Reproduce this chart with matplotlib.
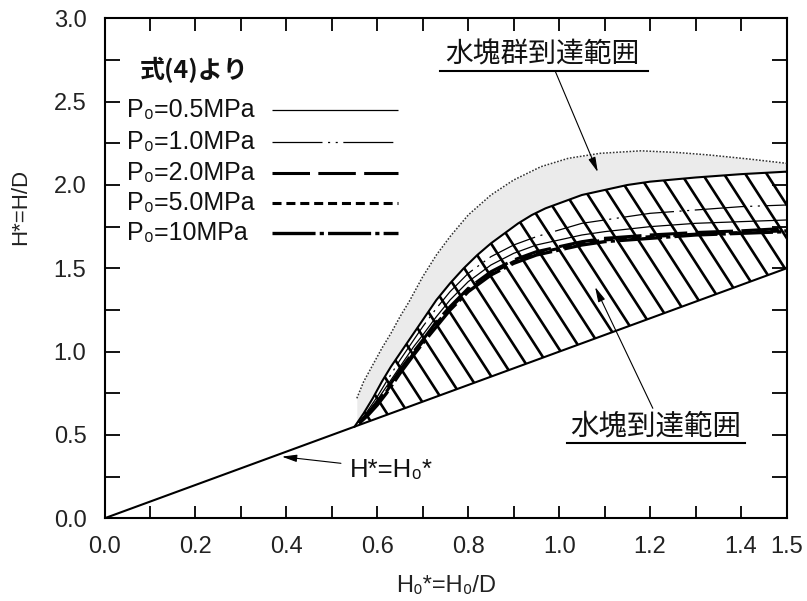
import numpy as np
import matplotlib
matplotlib.use('Agg')
import matplotlib.pyplot as plt
from matplotlib.patches import Polygon
from matplotlib.collections import LineCollection

plt.rcParams['font.family'] = ['Liberation Sans', 'DejaVu Sans']
plt.rcParams['lines.scale_dashes'] = False
JP = ['Noto Sans CJK JP', 'DejaVu Sans']

# ---------------- data ----------------
# H* = H0* line
line_x = [0.0, 1.5]
line_y = [0.0, 1.5]

# upper boundary of 水塊到達範囲 (hatched region)
ub_x = [0.55, 0.57, 0.59, 0.61, 0.63, 0.65, 0.67, 0.70, 0.73, 0.76, 0.79, 0.82, 0.85, 0.88,
        0.91, 0.94, 0.97, 1.0, 1.05, 1.1, 1.15, 1.2, 1.3, 1.4, 1.5]
ub_y = [0.55, 0.63, 0.72, 0.82, 0.91, 0.99, 1.07, 1.19, 1.31, 1.41, 1.50, 1.58, 1.65, 1.71,
        1.77, 1.82, 1.86, 1.89, 1.94, 1.97, 2.00, 2.02, 2.045, 2.065, 2.08]

# upper boundary of 水塊群到達範囲 (grey region, dotted)
grp_x = [0.555, 0.57, 0.59, 0.61, 0.63, 0.65, 0.67, 0.70, 0.73, 0.76, 0.80, 0.85, 0.90, 0.96,
         1.02, 1.09, 1.18, 1.26, 1.33, 1.42, 1.5]
grp_y = [0.72, 0.82, 0.92, 1.02, 1.11, 1.21, 1.30, 1.45, 1.58, 1.69, 1.82, 1.94, 2.03, 2.11,
         2.16, 2.19, 2.205, 2.195, 2.18, 2.155, 2.13]

# curves from eq.(4) for each P0
p0_x = [0.56, 0.58, 0.6, 0.62, 0.65, 0.68, 0.7, 0.73, 0.76, 0.8, 0.85, 0.9, 0.95, 1.0,
        1.05, 1.1, 1.2, 1.3, 1.4, 1.5]
p0_05 = [0.57, 0.64, 0.71, 0.79, 0.91, 1.03, 1.10, 1.21, 1.31, 1.42, 1.52, 1.59, 1.64, 1.67,
         1.70, 1.72, 1.75, 1.77, 1.78, 1.79]
p0_10 = [0.57, 0.65, 0.73, 0.82, 0.95, 1.07, 1.15, 1.26, 1.36, 1.47, 1.57, 1.64, 1.69, 1.73,
         1.77, 1.79, 1.83, 1.85, 1.87, 1.88]
p0_20 = [0.57, 0.63, 0.70, 0.77, 0.89, 1.00, 1.07, 1.18, 1.27, 1.38, 1.48, 1.55, 1.60, 1.63,
         1.66, 1.68, 1.70, 1.715, 1.725, 1.74]
p0_50 = [0.57, 0.63, 0.69, 0.76, 0.88, 0.99, 1.06, 1.17, 1.26, 1.37, 1.47, 1.54, 1.59, 1.62,
         1.65, 1.67, 1.69, 1.705, 1.715, 1.725]
p0_100 = [0.57, 0.62, 0.68, 0.75, 0.87, 0.98, 1.05, 1.15, 1.25, 1.36, 1.46, 1.53, 1.58, 1.61,
          1.64, 1.66, 1.68, 1.70, 1.71, 1.72]
p0_labels = ['P₀=0.5MPa', 'P₀=1.0MPa', 'P₀=2.0MPa', 'P₀=5.0MPa', 'P₀=10MPa']

x_ticks = [0.0, 0.1, 0.2, 0.3, 0.4, 0.5, 0.6, 0.7, 0.8, 0.9, 1.0, 1.1, 1.2, 1.3, 1.4, 1.5]
x_ticklabels = ['0.0', '', '0.2', '', '0.4', '', '0.6', '', '0.8', '', '1.0', '', '1.2', '', '1.4', '1.5']
y_ticks = [0.0, 0.25, 0.5, 0.75, 1.0, 1.25, 1.5, 1.75, 2.0, 2.25, 2.5, 2.75, 3.0]
y_ticklabels = ['0.0', '', '0.5', '', '1.0', '', '1.5', '', '2.0', '', '2.5', '', '3.0']

# ---------------- figure ----------------
fig = plt.figure(figsize=(8.07, 6.01), dpi=100)
ax = fig.add_axes([0.1295, 0.1376, 0.8451, 0.8319])
ax.set_xlim(0, 1.5)
ax.set_ylim(0, 3.0)

# grey region
xx = np.linspace(grp_x[0], grp_x[-1], 400)
lo = np.interp(xx, ub_x, ub_y)
hi = np.interp(xx, grp_x, grp_y)
ax.fill_between(xx, lo, hi, color='#ebebeb', lw=0, zorder=1)

# hatched region
verts = list(zip(ub_x, ub_y)) + [(line_x[1], line_y[1]), (ub_x[0], ub_y[0])]
poly = Polygon(verts, closed=True, facecolor='white', edgecolor='none', zorder=1.5)
ax.add_patch(poly)
k = 4.23
step = 0.047
segs = [[(b, 0.0), (b - 3.2 / k, 3.2)] for b in np.arange(0.30, 2.4, step)]
lc = LineCollection(segs, colors='k', linewidths=1.9, zorder=2)
lc.set_clip_path(poly)
ax.add_collection(lc)

styles = [
    dict(lw=0.9, ls='-'),
    dict(lw=0.9, ls=(0, (36, 4, 1.5, 4, 1.5, 4))),
    dict(lw=2.2, ls=(0, (27, 6))),
    dict(lw=2.2, ls=(0, (6.5, 3.5))),
    dict(lw=2.4, ls=(0, (31, 3, 3, 3))),
]
series = [p0_05, p0_10, p0_20, p0_50, p0_100]
for ys, st in zip(series, styles):
    ax.plot(p0_x, ys, color='k', zorder=3, solid_capstyle='butt', dash_capstyle='butt', **st)

ax.plot(ub_x, ub_y, color='k', lw=1.5, zorder=4)
ax.plot(line_x, line_y, color='k', lw=1.5, zorder=4)
ax.plot(grp_x, grp_y, color='#333333', lw=1.1, ls=(0, (1.2, 1.2)), zorder=4)

# legend (manual)
leg_y = [2.45, 2.26, 2.07, 1.89, 1.71]
ax.text(0.078, 2.69, '式(4)より', fontsize=18, family=JP, fontweight='bold', va='center', ha='left', color='#111')
for lab, yy, st in zip(p0_labels, leg_y, styles):
    ax.text(0.0495, yy, lab, fontsize=18, va='center', ha='left', color='#111')
    ax.plot([0.368, 0.646], [yy, yy], color='k', solid_capstyle='butt', dash_capstyle='butt', **st)

# annotations
aprops = dict(arrowstyle='-|>,head_length=0.9,head_width=0.22', color='k', lw=0.8,
              shrinkA=0, shrinkB=0)
ax.annotate('', xy=(1.085, 2.077), xytext=(0.991, 2.685), arrowprops=aprops, zorder=6)
ax.text(0.964, 2.785, '水塊群到達範囲', fontsize=20, family=JP, ha='center', va='center', color='#111')
ax.plot([0.738, 1.196], [2.685, 2.685], color='k', lw=1.5)

ax.annotate('', xy=(1.079, 1.388), xytext=(1.206, 0.66), arrowprops=aprops, zorder=6)
ax.text(1.213, 0.55, '水塊到達範囲', fontsize=20.5, family=JP, ha='center', va='center', color='#111')
ax.plot([1.0165, 1.4088], [0.45, 0.45], color='k', lw=1.5)

ax.annotate('', xy=(0.39, 0.37), xytext=(0.52, 0.33), arrowprops=aprops, zorder=6)
ax.text(0.54, 0.29, 'H*=H₀*', fontsize=18.5, ha='left', va='center', color='#111')

# axes styling
for sp in ax.spines.values():
    sp.set_linewidth(1.5)
ax.set_xticks(x_ticks)
ax.set_xticklabels(x_ticklabels)
ax.set_yticks(y_ticks)
ax.set_yticklabels(y_ticklabels)
ax.tick_params(axis='both', direction='in', top=True, right=True, width=1.3,
               labelsize=17, labelcolor='#222')
ax.tick_params(axis='x', length=9, pad=13)
ax.tick_params(axis='y', length=11, pad=13)

fig.text(0.025, 1 - 207 / 601, 'H*=H/D', rotation=90, fontsize=16, ha='center', va='center', color='#222')
fig.text(0.553, 1 - 586 / 601, 'H₀*=H₀/D', fontsize=17, ha='center', va='center', color='#222')

fig.savefig('out.png', dpi=100)
